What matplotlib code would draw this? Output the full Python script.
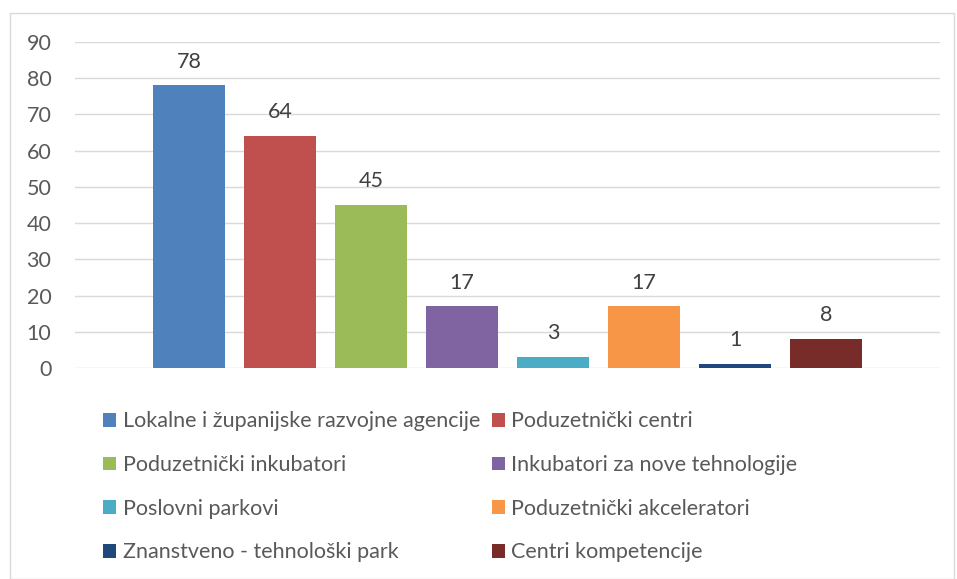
import matplotlib.pyplot as plt
from matplotlib.patches import Rectangle

# Data
labels = ['Lokalne i županijske razvojne agencije', 'Poduzetnički centri',
          'Poduzetnički inkubatori', 'Inkubatori za nove tehnologije',
          'Poslovni parkovi', 'Poduzetnički akceleratori',
          'Znanstveno - tehnološki park', 'Centri kompetencije']
values = [78, 64, 45, 17, 3, 17, 1, 8]
colors = ['#4F81BD', '#C0504D', '#9BBB59', '#8064A2',
          '#4BACC6', '#F79646', '#1F497D', '#772C2A']
yticks = [0, 10, 20, 30, 40, 50, 60, 70, 80, 90]

plt.rcParams['font.family'] = ['Lato', 'DejaVu Sans']
fs = 15.5

fig = plt.figure(figsize=(9.57, 5.79), dpi=100)
fig.patches.append(Rectangle((10 / 957, 0), 944 / 957, 1 - 13 / 579,
                             transform=fig.transFigure, fill=False,
                             edgecolor='#D9D9D9', linewidth=1))
ax = fig.add_axes([75 / 957, 1 - 368 / 579, 865 / 957, 326 / 579])

step = 0.1052
width = 0.0832
positions = [0.5 + (i - 3.5) * step for i in range(len(values))]
bars = ax.bar(positions, values, width=width, color=colors, label=labels, zorder=2)
for x, v in zip(positions, values):
    ax.annotate(str(v), (x, v), xytext=(0, 10), textcoords='offset points',
                ha='center', va='bottom', fontsize=fs, color='#404040')

ax.set_xlim(0, 1)
ax.set_ylim(0, 90)
ax.set_yticks(yticks)
ax.set_xticks([])
ax.grid(axis='y', color='#D9D9D9', linewidth=1, zorder=0)
for s in ax.spines.values():
    s.set_visible(False)
ax.tick_params(axis='y', length=0, labelsize=fs, labelcolor='#595959', pad=17)

order = [0, 2, 4, 6, 1, 3, 5, 7]
handles = [bars[i] for i in order]
leg = fig.legend(handles, [labels[i] for i in order], ncol=2,
                 loc='upper left', bbox_to_anchor=(84 / 957, 1 - 392 / 579),
                 frameon=False, fontsize=fs, handlelength=0.6, handleheight=0.6,
                 handletextpad=0.3, columnspacing=0.55, labelspacing=1.1,
                 labelcolor='#595959')

fig.savefig('out.png', dpi=100)
